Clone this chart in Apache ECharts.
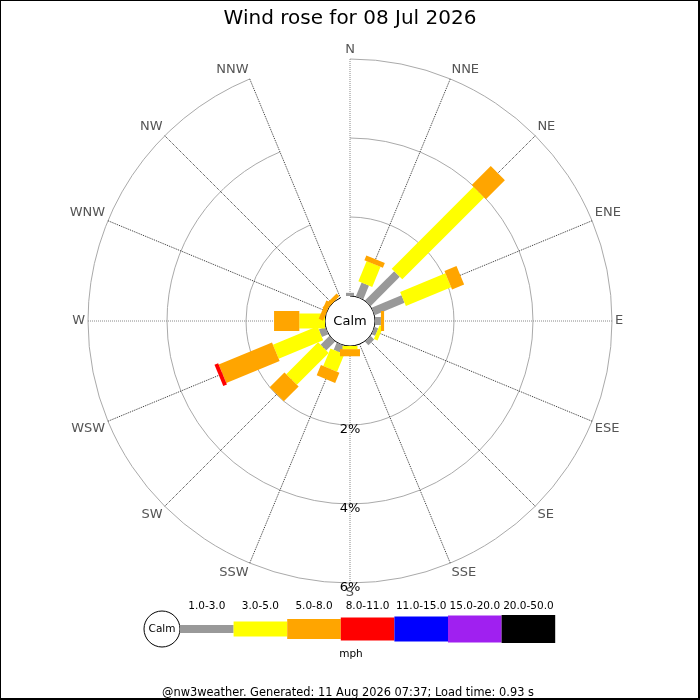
<!DOCTYPE html>
<html><head><meta charset="utf-8">
<script src="https://cdn.jsdelivr.net/npm/echarts@6/dist/echarts.min.js"></script>
<style>html,body{margin:0;padding:0;background:#fff}#c{width:700px;height:700px}</style>
</head><body><div id="c"></div>
<script>
const FONT = 'DejaVu Sans';
const titleText = 'Wind rose for 08 Jul 2026';
const footerText = '@nw3weather. Generated: 11 Aug 2026 07:37; Load time: 0.93 s';
const unitText = 'mph';
const calmText = 'Calm';
const directions = ['N','NNE','NE','ENE','E','ESE','SE','SSE','S','SSW','SW','WSW','W','WNW','NW','NNW'];
const speedBins = ['1.0-3.0','3.0-5.0','5.0-8.0','8.0-11.0','11.0-15.0','15.0-20.0','20.0-50.0'];
const binColors = ['#999999','#ffff00','#ffa500','#ff0000','#0000ff','#a020f0','#000000'];
const binWidths = [8,15,20,23,25,27,28];
// percentage of time, per direction (N..NNW), per speed bin
const bin1to3   = [0.08,0.38,1.05,0.82,0.15,0.10,0.13,0,   0,   0.20,0.32,0.18,0,   0,   0,   0];
const bin3to5   = [0,   0.55,2.93,1.24,0,   0.10,0,   0,   0.08,0.48,1.14,1.22,0.65,0,   0,   0];
const bin5to8   = [0,   0.13,0.68,0.33,0.08,0,   0,   0,   0.18,0.28,0.53,1.46,0.64,0.12,0.10,0];
const bin8to11  = [0,   0,   0,   0,   0,   0,   0,   0,   0,   0,   0,   0.10,0,   0,   0,   0];
const bin11to15 = [0,0,0,0,0,0,0,0,0,0,0,0,0,0,0,0];
const bin15to20 = [0,0,0,0,0,0,0,0,0,0,0,0,0,0,0,0];
const bin20to50 = [0,0,0,0,0,0,0,0,0,0,0,0,0,0,0,0];
const binValues = [bin1to3, bin3to5, bin5to8, bin8to11, bin11to15, bin15to20, bin20to50];
const radiusMax = 6, radiusStep = 2;

const CX = 350, CY = 321, R0 = 25, R1 = 262;

function makeRender(w, color) {
  return function (params, api) {
    const s = api.value(0), a = api.value(1), e = api.value(2);
    const p1 = api.coord([s, a]);
    const p2 = api.coord([e, a]);
    const cx = params.coordSys.cx, cy = params.coordSys.cy;
    let ux = p2[0] - cx, uy = p2[1] - cy;
    const L = Math.hypot(ux, uy) || 1;
    ux /= L; uy /= L;
    const nx = -uy * w / 2, ny = ux * w / 2;
    return {
      type: 'polygon',
      shape: { points: [[p1[0] + nx, p1[1] + ny], [p2[0] + nx, p2[1] + ny], [p2[0] - nx, p2[1] - ny], [p1[0] - nx, p1[1] - ny]] },
      style: { fill: color }
    };
  };
}

const cum = directions.map(() => 0);
const series = binValues.map((vals, b) => {
  const data = [];
  vals.forEach((v, i) => {
    if (v > 0) { data.push([cum[i], i, cum[i] + v]); cum[i] += v; }
  });
  return {
    type: 'custom', name: speedBins[b], coordinateSystem: 'polar', polarIndex: 0,
    encode: { radius: [0, 2], angle: 1 }, data: data, z: 3,
    renderItem: makeRender(binWidths[b], binColors[b])
  };
});

// legend built from the bins
const legendGraphics = [];
const LX = 180, LW = 53.6, LY = 629;
legendGraphics.push({ type: 'circle', shape: { cx: 162, cy: LY, r: 18 }, style: { fill: '#fff', stroke: '#000', lineWidth: 1 }, z: 10 });
legendGraphics.push({ type: 'text', x: 162, y: LY, style: { text: calmText, align: 'center', verticalAlign: 'middle', font: '10.5px "' + FONT + '"', fill: '#000' }, z: 11 });
speedBins.forEach((lab, b) => {
  const x = LX + b * LW;
  legendGraphics.push({ type: 'rect', shape: { x: x, y: LY - binWidths[b] / 2, width: LW, height: binWidths[b] }, style: { fill: binColors[b] }, z: 10 });
  legendGraphics.push({ type: 'text', x: x + LW / 2, y: 606, style: { text: lab, align: 'center', verticalAlign: 'middle', font: '10.5px "' + FONT + '"', fill: '#000' }, z: 11 });
});
legendGraphics.push({ type: 'text', x: 351, y: 654, style: { text: unitText, align: 'center', verticalAlign: 'middle', font: '10.5px "' + FONT + '"', fill: '#000' }, z: 11 });

const chart = echarts.init(document.getElementById('c'), null, { renderer: 'canvas' });
chart.setOption({
  backgroundColor: '#fff',
  animation: false,
  title: { text: titleText, left: 'center', top: 4, textStyle: { fontFamily: FONT, fontSize: 20, fontWeight: 'normal', color: '#000' } },
  polar: [
    { center: [CX, CY], radius: [R0, R1] },
    { center: [CX, CY], radius: [R0, R1] }
  ],
  angleAxis: [
    {
      polarIndex: 0, type: 'category', data: directions, boundaryGap: false, startAngle: 90, clockwise: true,
      axisLine: { show: false }, axisTick: { show: false },
      axisLabel: { show: true, margin: 3, color: '#555', fontSize: 13, fontFamily: FONT, interval: 0 },
      splitLine: { show: true, lineStyle: { type: 'dotted', width: 1, color: ['#888', '#333', '#333', '#333'] } }
    },
    { polarIndex: 1, type: 'value', min: 0, max: 360, startAngle: 270, show: false }
  ],
  radiusAxis: [
    {
      polarIndex: 0, type: 'value', min: 0, max: radiusMax, interval: radiusStep,
      axisLine: { show: false }, axisTick: { show: false }, axisLabel: { show: false },
      splitLine: { show: true, lineStyle: { color: ['#000', '#aaa', '#aaa', '#aaa'], width: 1 } }
    },
    {
      polarIndex: 1, type: 'value', min: 0, max: radiusMax, interval: radiusStep,
      axisLine: { show: false }, axisTick: { show: false }, splitLine: { show: false },
      axisLabel: { show: true, margin: 0, align: 'center', verticalAlign: 'top', lineHeight: 9, color: '#000', fontSize: 13, fontFamily: FONT,
        formatter: function (v) { return v === 0 ? '' : v + '%'; } }
    }
  ],
  series: series,
  graphic: [
    { type: 'text', x: CX, y: CY + 1, style: { text: calmText, align: 'center', verticalAlign: 'middle', font: '13px "' + FONT + '"', fill: '#000' }, z: 20 },
    { type: 'text', x: 348, y: 693, style: { text: footerText, align: 'center', verticalAlign: 'middle', font: '11.4px "' + FONT + '"', fill: '#000' }, z: 20 },
    { type: 'rect', shape: { x: 0, y: 0, width: 1, height: 700 }, style: { fill: '#000' }, z: 30 },
    { type: 'rect', shape: { x: 0, y: 0, width: 700, height: 1 }, style: { fill: '#000' }, z: 30 },
    { type: 'rect', shape: { x: 698, y: 0, width: 2, height: 700 }, style: { fill: '#000' }, z: 30 },
    { type: 'rect', shape: { x: 0, y: 698, width: 700, height: 2 }, style: { fill: '#000' }, z: 30 }
  ].concat(legendGraphics)
});
</script></body></html>
